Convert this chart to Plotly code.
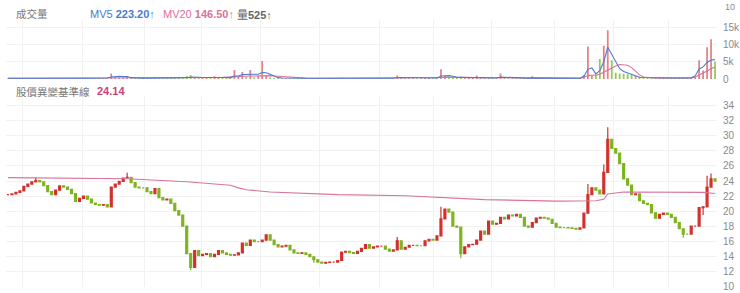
import plotly.graph_objects as go

# ---------------- data ----------------
CLOSE = [22.2, 22.3, 22.5, 22.7, 23.3, 23.6, 23.9, 24.05, 23.9, 23.4,
         22.6, 22.2, 22.8, 23.35, 23.2, 22.9, 22.35, 21.3, 21.7, 22.0,
         21.6, 21.1, 20.9, 20.8, 20.9, 20.6, 23.2, 23.6, 23.95, 24.4,
         24.5, 23.8, 23.2, 23.1, 23.1, 22.6, 22.35, 23.0, 21.8, 21.5,
         21.6, 21.05, 20.1, 19.5, 18.05, 14.4, 12.6, 14.8, 14.15, 14.3,
         14.4, 14.0, 14.3, 14.8, 14.5, 14.3, 14.2, 14.25, 14.5, 15.8,
         15.5, 16.2, 16.0, 16.0, 16.2, 16.9, 16.2, 15.6, 15.3, 15.4,
         15.5, 14.9, 14.5, 14.45, 14.5, 14.3, 14.0, 13.6, 13.3, 13.15,
         13.25, 13.3, 13.3, 13.5, 14.6, 14.7, 14.55, 14.45, 14.7, 15.1,
         15.6, 15.15, 15.3, 15.4, 15.4, 15.0, 14.75, 14.9, 16.1, 15.0,
         15.25, 15.5, 15.5, 15.45, 15.45, 16.1, 16.3, 16.2, 16.75, 19.0,
         20.3, 19.9, 18.05, 17.9, 14.4, 15.3, 15.6, 15.65, 16.2, 17.4,
         17.0, 18.7, 18.3, 18.4, 19.2, 19.0, 19.5, 19.4, 19.6, 19.2,
         18.05, 17.9, 18.5, 19.1, 19.2, 19.1, 18.95, 18.4, 17.9, 17.85,
         17.85, 17.8, 17.75, 17.65, 17.8, 19.75, 22.2, 23.1, 22.8, 22.3,
         25.15, 29.5, 28.3, 27.7, 26.3, 24.3, 23.45, 22.2, 22.3, 21.4,
         21.05, 20.9, 19.8, 19.1, 19.6, 19.75, 19.6, 19.2, 18.5, 17.7,
         17.0, 17.0, 18.05, 18.05, 20.5, 20.6, 23.2, 24.3, 24.0]

WICK_HIGH_DAY = [7, 30, 98, 109, 146, 150, 151, 176, 177]
WICK_HIGH_VAL = [24.5, 25.1, 16.6, 20.6, 23.6, 26.2, 31.1, 24.7, 25.0]
WICK_LOW_DAY = [46, 77, 114, 170, 175]
WICK_LOW_VAL = [12.2, 13.2, 13.8, 16.5, 19.5]

VOLUME = [250, 180, 220, 300, 260, 200, 240, 310, 280, 190,
          230, 260, 210, 300, 250, 220, 270, 240, 200, 230,
          260, 210, 190, 240, 220, 260, 1600, 700, 450, 400,
          500, 350, 260, 240, 280, 230, 260, 300, 240, 220,
          260, 280, 320, 350, 420, 800, 1100, 500, 320, 300,
          280, 310, 800, 380, 340, 360, 330, 2600, 600, 2000,
          700, 2600, 500, 900, 5200, 900, 500, 300, 260, 240,
          230, 250, 220, 210, 240, 230, 220, 260, 240, 210,
          200, 230, 220, 250, 380, 300, 260, 240, 280, 300,
          320, 260, 240, 250, 230, 220, 240, 230, 1000, 400,
          260, 240, 230, 250, 240, 280, 300, 260, 320, 2800,
          900, 600, 500, 400, 700, 320, 300, 280, 1000, 340,
          300, 320, 300, 280, 1600, 300, 260, 250, 240, 260,
          280, 250, 800, 270, 260, 250, 240, 230, 250, 240,
          230, 220, 240, 230, 260, 1200, 9400, 1000, 1300, 5800,
          9600, 14100, 5400, 1800, 1600, 1500, 1400, 1200, 900, 700,
          500, 400, 380, 350, 320, 300, 320, 300, 280, 300,
          320, 350, 400, 700, 5400, 2500, 9200, 11500, 5000]

MV5 = [250, 240, 240, 250, 250, 240, 240, 250, 250, 240,
       240, 240, 240, 250, 250, 240, 240, 240, 240, 240,
       240, 230, 230, 230, 230, 300, 600, 800, 800, 750,
       700, 400, 300, 270, 260, 260, 260, 260, 260, 260,
       260, 280, 300, 320, 350, 400, 550, 600, 500, 450,
       400, 380, 450, 450, 450, 450, 420, 900, 900, 1300,
       1300, 1500, 1300, 1400, 1900, 1800, 1400, 900, 400, 300,
       260, 240, 240, 230, 230, 230, 230, 230, 230, 220,
       220, 220, 230, 240, 260, 280, 280, 270, 260, 270,
       270, 270, 260, 250, 250, 240, 240, 240, 450, 450,
       430, 400, 260, 250, 250, 260, 270, 280, 290, 900,
       1000, 1000, 800, 500, 480, 450, 400, 350, 450, 450,
       420, 400, 320, 300, 550, 500, 480, 450, 300, 260,
       260, 260, 350, 350, 340, 320, 260, 250, 240, 240,
       240, 230, 230, 240, 250, 800, 2800, 3200, 1500, 2400,
       5000, 9200, 7000, 5200, 3000, 2200, 1800, 1300, 900, 500,
       450, 400, 380, 350, 330, 320, 310, 310, 300, 300,
       310, 320, 350, 900, 2900, 3500, 4800, 5500, 5600]

MV20 = [250, 250, 250, 250, 250, 250, 250, 250, 250, 250,
        250, 250, 250, 250, 250, 250, 250, 250, 250, 250,
        250, 250, 250, 250, 250, 260, 350, 400, 420, 420,
        420, 400, 380, 340, 300, 280, 270, 270, 270, 270,
        270, 280, 290, 300, 320, 350, 380, 400, 400, 400,
        400, 400, 420, 450, 480, 500, 520, 650, 700, 800,
        850, 950, 1000, 1000, 1100, 1100, 1000, 900, 800, 700,
        600, 450, 350, 300, 280, 260, 250, 250, 250, 250,
        250, 250, 250, 250, 260, 270, 270, 270, 270, 270,
        270, 270, 270, 260, 260, 260, 260, 260, 300, 320,
        320, 320, 300, 280, 280, 280, 280, 280, 290, 400,
        450, 480, 480, 480, 480, 470, 450, 420, 420, 420,
        400, 380, 350, 330, 380, 380, 370, 360, 350, 340,
        330, 320, 320, 320, 320, 300, 290, 280, 270, 260,
        260, 260, 260, 260, 270, 500, 1000, 1100, 1100, 1400,
        2000, 2800, 3300, 3800, 4200, 4200, 4000, 3300, 2200, 1200,
        600, 400, 380, 350, 330, 320, 310, 310, 300, 300,
        300, 310, 330, 600, 1100, 1600, 2300, 3000, 3500]

BASE_DAY = [0, 30, 45, 56, 58, 60, 66, 83, 100, 110, 120, 138, 148, 150,
            151, 155, 163, 175, 178]
BASE_VAL = [24.45, 24.3, 23.9, 23.45, 23.1, 22.85, 22.55, 22.2, 22.05, 21.8,
            21.55, 21.35, 21.4, 21.6, 22.3, 22.55, 22.55, 22.5, 22.35]

GRID_DAYS = [3.75, 18.75, 34.25, 48.75, 63.5, 78.5, 93.5, 107.25, 121.75,
             137.5, 152.5, 166.25]

PRICE_TICKS = [12, 14, 16, 18, 20, 22, 24, 26, 28, 30, 32, 34]
VOL_TICKS = [0, 5000, 10000, 15000]
VOL_TICK_TEXT = ["0", "5k", "10k", "15k"]

LEGEND_VOL = ("成交量", "MV5", "223.20↑", "MV20", "146.50↑", "量525↑")
LEGEND_PRICE = ("股價異變基準線", "24.14")

# ---------------- derived candle structure ----------------
DAYS = list(range(len(CLOSE)))
OPEN = [CLOSE[0]] + CLOSE[:-1]
HIGH = [max(o, c) for o, c in zip(OPEN, CLOSE)]
LOW = [min(o, c) for o, c in zip(OPEN, CLOSE)]
for d, v in zip(WICK_HIGH_DAY, WICK_HIGH_VAL):
    HIGH[d] = max(HIGH[d], v)
for d, v in zip(WICK_LOW_DAY, WICK_LOW_VAL):
    LOW[d] = min(LOW[d], v)

RED = "#d2302c"
GREEN = "#7cb41e"
VOL_RED = "rgba(222,110,110,0.85)"
VOL_GREEN = "rgba(130,190,60,0.85)"
BLUE = "#4b7bd0"
PINK = "#d9729c"

vol_colors = [VOL_RED if c >= o else VOL_GREEN for o, c in zip(OPEN, CLOSE)]

W, H = 740, 293
ML, MR = 6, 18
PW = W - ML - MR


def px_x(p):
    return (p - ML) / PW


def px_y(p):
    return 1 - p / H


fig = go.Figure()

fig.add_trace(go.Bar(x=DAYS, y=VOLUME, marker=dict(color=vol_colors, line=dict(width=0)),
                     width=0.45, xaxis="x2", yaxis="y2", showlegend=False, hoverinfo="skip"))
fig.add_trace(go.Scatter(x=DAYS, y=MV20, mode="lines", line=dict(color=PINK, width=1.1),
                         xaxis="x2", yaxis="y2", showlegend=False, hoverinfo="skip"))
fig.add_trace(go.Scatter(x=DAYS, y=MV5, mode="lines", line=dict(color=BLUE, width=1.1),
                         xaxis="x2", yaxis="y2", showlegend=False, hoverinfo="skip"))

fig.add_trace(go.Candlestick(
    x=DAYS, open=OPEN, high=HIGH, low=LOW, close=CLOSE,
    increasing=dict(line=dict(color=RED, width=1.2), fillcolor=RED),
    decreasing=dict(line=dict(color=GREEN, width=1.2), fillcolor=GREEN),
    whiskerwidth=0, showlegend=False, hoverinfo="skip", xaxis="x", yaxis="y"))
fig.add_trace(go.Scatter(x=BASE_DAY, y=BASE_VAL, mode="lines",
                         line=dict(color=PINK, width=1.1), showlegend=False,
                         hoverinfo="skip", xaxis="x", yaxis="y"))

GRID = "#f1f1f1"
TICKFONT = dict(family="Liberation Sans, Arial", size=10, color="#8a8a8a")
xcommon = dict(range=[-0.5, len(CLOSE) - 0.5], tickvals=GRID_DAYS, showticklabels=False,
               showgrid=True, gridcolor=GRID, gridwidth=1, zeroline=False, showline=False,
               ticks="", rangeslider=dict(visible=False), fixedrange=True)

fig.update_layout(
    width=W, height=H,
    margin=dict(l=ML, r=MR, t=0, b=0),
    paper_bgcolor="white", plot_bgcolor="white",
    showlegend=False,
    xaxis=dict(domain=[0, 1], anchor="y", **xcommon),
    xaxis2=dict(domain=[0, 1], anchor="y2", **xcommon),
    yaxis=dict(domain=[0, px_y(98.3)], range=[10, 35.2], side="right",
               tickvals=[10] + PRICE_TICKS, showgrid=True, gridcolor=GRID,
               zeroline=False, showline=False, ticks="", tickfont=TICKFONT,
               ticklabelstandoff=5),
    yaxis2=dict(domain=[px_y(80.7), px_y(20.6)], range=[0, 17000], side="right",
                tickvals=VOL_TICKS, ticktext=VOL_TICK_TEXT, showgrid=True,
                gridcolor=GRID, zeroline=False, showline=False, ticks="",
                tickfont=TICKFONT, ticklabelstandoff=5),
)

CJK = "Noto Sans CJK TC, Noto Sans, sans-serif"
LAT = "Liberation Sans, Arial, sans-serif"


def label(px, py, text, color, family=LAT, size=11):
    fig.add_annotation(x=px_x(px), y=px_y(py), xref="paper", yref="paper",
                       text=text, showarrow=False, xanchor="left", yanchor="middle",
                       font=dict(family=family, size=size, color=color))


label(14, 14, LEGEND_VOL[0], "#777777", CJK, 10.5)
label(89, 14, f"{LEGEND_VOL[1]} <b>{LEGEND_VOL[2]}</b>", BLUE)
label(162, 14, f"{LEGEND_VOL[3]} <b>{LEGEND_VOL[4]}</b>", PINK)
label(237, 14, f"<span style='font-family:Noto Sans CJK TC'>{LEGEND_VOL[5][0]}</span><b>{LEGEND_VOL[5][1:]}</b>", "#666666")
label(14, 93, LEGEND_PRICE[0], "#777777", CJK, 10.5)
label(96, 93, f"<b>{LEGEND_PRICE[1]}</b>", "#c8457a")

# tick label of the panel above (kept fully visible at the very top)
fig.add_annotation(x=px_x(728), y=1, xref="paper", yref="paper", text="10",
                   showarrow=False, xanchor="left", yanchor="top",
                   font=dict(family="Liberation Sans, Arial", size=9, color="#8a8a8a"))

fig.write_html("out.html")
